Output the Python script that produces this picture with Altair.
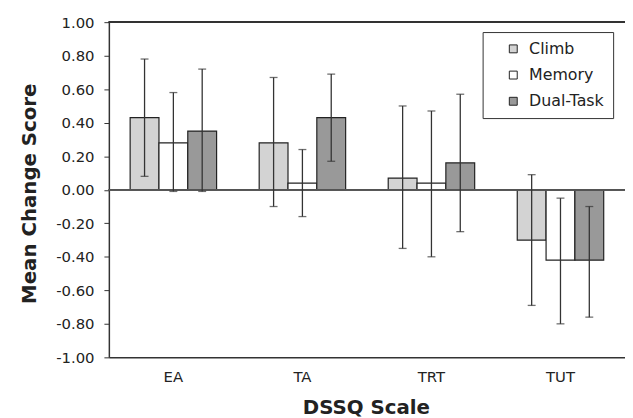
import altair as alt
import pandas as pd

scales = ["EA", "TA", "TRT", "TUT"]
groups = ["Climb", "Memory", "Dual-Task"]
colors = ["#d3d3d3", "#ffffff", "#999999"]

climb_mean = [0.43, 0.28, 0.07, -0.30]
climb_lo = [0.08, -0.10, -0.35, -0.69]
climb_hi = [0.78, 0.67, 0.50, 0.09]

memory_mean = [0.28, 0.04, 0.04, -0.42]
memory_lo = [-0.01, -0.16, -0.40, -0.80]
memory_hi = [0.58, 0.24, 0.47, -0.05]

dual_mean = [0.35, 0.43, 0.16, -0.42]
dual_lo = [-0.01, 0.17, -0.25, -0.76]
dual_hi = [0.72, 0.69, 0.57, -0.10]

y_ticks = [-1.0, -0.8, -0.6, -0.4, -0.2, 0.0, 0.2, 0.4, 0.6, 0.8, 1.0]

rows = []
for g, m, lo, hi in [
    ("Climb", climb_mean, climb_lo, climb_hi),
    ("Memory", memory_mean, memory_lo, memory_hi),
    ("Dual-Task", dual_mean, dual_lo, dual_hi),
]:
    for s, mv, lv, hv in zip(scales, m, lo, hi):
        rows.append({"scale": s, "group": g, "mean": mv, "lo": lv, "hi": hv})
df = pd.DataFrame(rows)

FONT = "DejaVu Sans"
W, H = 522, 339
INK = "#222222"

x_axis = alt.Axis(
    title="DSSQ Scale",
    labelAngle=0,
    ticks=False,
    tickSize=0,
    domain=True,
    domainColor="#333333",
    domainWidth=1.5,
    labelPadding=12,
    labelFontSize=15,
    labelColor=INK,
    labelFont=FONT,
    titleFont=FONT,
    titleFontSize=20,
    titleFontWeight="bold",
    titleColor=INK,
    titleX=260,
    titleY=57,
    titleBaseline="alphabetic",
    titleAlign="center",
)
y_axis = alt.Axis(
    title="Mean Change Score",
    values=y_ticks,
    labelExpr="(datum.value < -0.001 ? '-' : '') + format(abs(datum.value), '.2f')",
    labelOverlap=False,
    grid=False,
    domainColor="#333333",
    domainWidth=1.5,
    tickColor="#333333",
    tickSize=5,
    labelPadding=10,
    labelFontSize=15,
    labelColor=INK,
    labelFont=FONT,
    titleFont=FONT,
    titleFontSize=20,
    titleFontWeight="bold",
    titleColor=INK,
    titleAngle=-90,
    titleX=-80,
    titleY=173,
    titleBaseline="middle",
    titleAlign="center",
)

x_scale = alt.Scale(paddingInner=0.33, paddingOuter=0.165)
y_scale = alt.Scale(domain=[-1, 1], nice=False)


def x_enc():
    return alt.X("scale:N", sort=scales, scale=x_scale, axis=x_axis, title="DSSQ Scale")


def xoff():
    return alt.XOffset("group:N", sort=groups, scale=alt.Scale(domain=groups, paddingInner=0, paddingOuter=0))


def y_enc(field):
    return alt.Y(field, type="quantitative", scale=y_scale, axis=y_axis, title="Mean Change Score")


bars = alt.Chart(df).mark_bar(stroke=INK, strokeWidth=1.2).encode(
    x=x_enc(),
    xOffset=xoff(),
    y=y_enc("mean"),
    y2=alt.datum(0),
    fill=alt.Fill(
        "group:N",
        sort=groups,
        scale=alt.Scale(domain=groups, range=colors),
        legend=alt.Legend(
            title=None,
            orient="none",
            legendX=378,
            legendY=10,
            strokeColor="#333333",
            fillColor="#ffffff",
            padding=9,
            rowPadding=10.5,
            symbolType="square",
            symbolSize=64,
            symbolOffset=14,
            symbolStrokeColor=INK,
            symbolStrokeWidth=1,
            labelFontSize=16,
            labelFont=FONT,
            labelColor=INK,
            labelOffset=8,
        ),
    ),
)

zero = alt.Chart(df).mark_rule(color="#555555", strokeWidth=1.2).encode(
    y=alt.datum(0, type="quantitative", scale=y_scale, axis=y_axis, title="Mean Change Score")
)
top = alt.Chart(df).mark_rule(color="#333333", strokeWidth=1.5).encode(
    y=alt.datum(1, type="quantitative", scale=y_scale, axis=y_axis, title="Mean Change Score")
)

err = alt.Chart(df).mark_rule(color="#333333", strokeWidth=1.3).encode(
    x=x_enc(),
    xOffset=xoff(),
    y=y_enc("lo"),
    y2="hi:Q",
)
cap_lo = alt.Chart(df).mark_tick(color="#333333", thickness=1.3, size=8, orient="horizontal").encode(
    x=x_enc(),
    xOffset=xoff(),
    y=y_enc("lo"),
)
cap_hi = alt.Chart(df).mark_tick(color="#333333", thickness=1.3, size=8, orient="horizontal").encode(
    x=x_enc(),
    xOffset=xoff(),
    y=y_enc("hi"),
)

chart = (
    alt.layer(bars, zero, top, err, cap_lo, cap_hi)
    .properties(
        width=W,
        height=H,
        autosize=alt.AutoSizeParams(type="none"),
        padding={"left": 102, "top": 12, "right": 0, "bottom": 59},
        background="white",
    )
    .configure_view(stroke=None)
    .configure_axisY(labelOverlap=False)
)

chart.save("out.html", embed_options={"renderer": "svg", "actions": False})
